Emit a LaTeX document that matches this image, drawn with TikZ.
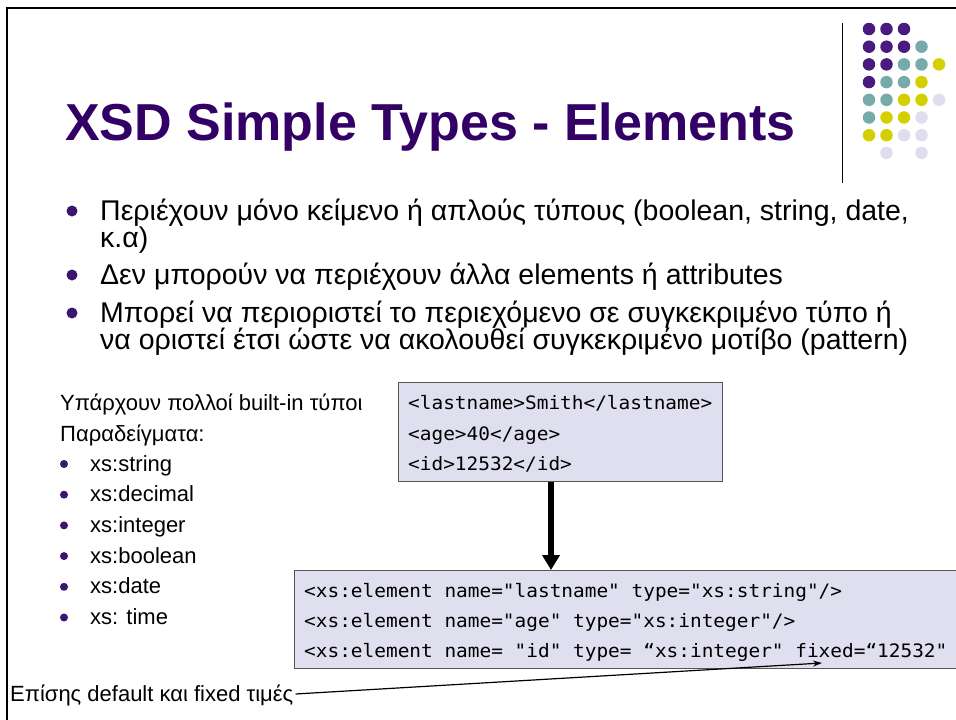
\documentclass[tikz,border=0pt]{standalone}
\usepackage{fontspec}
\setmainfont{Liberation Sans}
\newfontfamily\codefont[FakeStretch=1.05]{DejaVu Sans Mono}
\usetikzlibrary{arrows.meta}
\definecolor{titlecol}{HTML}{330066}
\definecolor{bulcol}{HTML}{3A1670}
\definecolor{dotP}{HTML}{4B1A7E}
\definecolor{dotT}{HTML}{77AAAA}
\definecolor{dotY}{HTML}{D4D000}
\definecolor{dotL}{HTML}{DEDEEE}
\definecolor{boxfill}{HTML}{DFDFF0}
\definecolor{boxdraw}{HTML}{555555}
\tikzset{
  bigtext/.style={anchor=base west, inner sep=0pt, font=\fontsize{28.5}{32}\selectfont},
  smalltext/.style={anchor=base west, inner sep=0pt, font=\fontsize{22}{26}\selectfont},
  codetext/.style={anchor=base west, inner sep=0pt, font=\codefont\fontsize{18.5}{22}\selectfont},
  codebox/.style={draw=boxdraw, line width=1.2pt, fill=boxfill},
  bigdot/.style={circle, fill=bulcol, inner sep=0pt, minimum size=11pt},
  smalldot/.style={circle, fill=bulcol, inner sep=0pt, minimum size=8pt},
  gdot/.style={circle, inner sep=0pt, minimum size=12.5pt},
}
\begin{document}
\begin{tikzpicture}[x=1pt,y=-1pt]
\useasboundingbox (0,0) rectangle (956,720);
% frame
\draw[line width=2pt] (7,720) -- (7,7.5) -- (960,7.5);
% vertical rule
\draw[line width=1pt] (842,23) -- (842,183);
% dot grid
\foreach \r/\c/\col in {0/0/dotP,0/1/dotP,0/2/dotP,
  1/0/dotP,1/1/dotP,1/2/dotP,1/3/dotT,
  2/0/dotP,2/1/dotP,2/2/dotT,2/3/dotT,2/4/dotY,
  3/0/dotP,3/1/dotT,3/2/dotT,3/3/dotY,
  4/0/dotT,4/1/dotT,4/2/dotY,4/3/dotY,4/4/dotL,
  5/0/dotT,5/1/dotY,5/2/dotY,5/3/dotL,
  6/0/dotY,6/1/dotY,6/2/dotL,6/3/dotL,
  7/1/dotL,7/3/dotL}
  \node[gdot, fill=\col] (g\r\c) at ({869+17.5*\c},{29+17.7*\r}) {};
% title
\node[anchor=base west, inner sep=0pt, text=titlecol, font=\fontsize{52}{60}\selectfont\bfseries] (title) at (65,140) {XSD Simple Types - Elements};
% main bullets
\node[bigdot] (b1) at (72,211) {};
\node[bigtext] (t1) at (100,220) {Περιέχουν μόνο κείμενο ή απλούς τύπους (boolean, string, date,};
\node[bigtext] (t1b) at (100,247) {κ.α)};
\node[bigdot] (b2) at (72,275) {};
\node[bigtext] (t2) at (100,284) {Δεν μπορούν να περιέχουν άλλα elements ή attributes};
\node[bigdot] (b3) at (72,313) {};
\node[bigtext] (t3) at (100,322) {Μπορεί να περιοριστεί το περιεχόμενο σε συγκεκριμένο τύπο ή};
\node[bigtext] (t3b) at (100,349) {να οριστεί έτσι ώστε να ακολουθεί συγκεκριμένο μοτίβο (pattern)};
% left column
\node[smalltext] (s0) at (60,410) {Υπάρχουν πολλοί built-in τύποι};
\node[smalltext] (s1) at (60,441) {Παραδείγματα:};
\foreach \i/\txt in {0/xs:string,1/xs:decimal,2/xs:integer,3/xs:boolean,4/xs:date,5/xs: time}{
  \node[smalldot] (sd\i) at (64,{464+30.7*\i}) {};
  \node[smalltext] (st\i) at (90,{471+30.7*\i}) {\txt};
}
% box 1
\node[codebox, anchor=north west, minimum width=324pt, minimum height=99pt, inner sep=0pt] (box1) at (398,382) {};
\node[codetext] (c1) at (408,409) {<lastname>Smith</lastname>};
\node[codetext] (c2) at (408,440) {<age>40</age>};
\node[codetext] (c3) at (408,470) {<id>12532</id>};
% box 2
\node[codebox, anchor=north west, minimum width=670pt, minimum height=98pt, inner sep=0pt] (box2) at (294,570) {};
\node[codetext] (d1) at (304,597) {<xs:element name="lastname" type="xs:string"/>};
\node[codetext] (d2) at (304,627) {<xs:element name="age" type="xs:integer"/>};
\node[codetext] (d3) at (304,657) {<xs:element name= "id" type= “xs:integer" fixed=“12532"};
% arrow
\draw[line width=5.5pt, -{Triangle[length=15pt, width=17pt]}] (box1.south -| 551,0) -- (box2.north -| 551,0);
% annotation
\node[smalltext] (ann) at (10,701) {Επίσης default και fixed τιμές};
\coordinate (tip) at (822,663);
\draw[line width=1.2pt, -{Stealth[length=9pt, width=6pt]}] (ann.east |- 0,694) ++(2,0) -- (tip);
\end{tikzpicture}
\end{document}
